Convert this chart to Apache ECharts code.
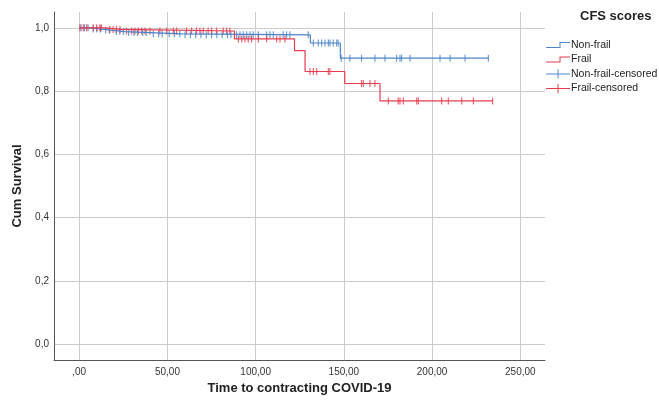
<!DOCTYPE html>
<html>
<head>
	<meta charset="UTF-8">
	<title>CFS scores - Kaplan-Meier</title>
	<script src="https://cdn.jsdelivr.net/npm/echarts@6/dist/echarts.min.js"></script>
</head>
<body style="margin:0; background:#fff;">
	<div id="container" style="width:659px;height:403px;"></div>
	<script type="text/javascript">
		// 刻度
		var xTicks = [0, 50, 100, 150, 200, 250];
		var yTicks = [0, 0.2, 0.4, 0.6, 0.8, 1.0];

		// Non-frail 生存曲线
		var nonFrailTime = [0, 7, 13, 19, 26, 40, 58, 131, 148, 232];
		var nonFrailSurv = [1.0, 0.996, 0.992, 0.988, 0.985, 0.981, 0.978, 0.952, 0.904, 0.904];
		// Frail 生存曲线
		var frailTime = [0, 14, 24, 88, 122, 128, 150.5, 170.5, 234.3];
		var frailSurv = [1.0, 0.995, 0.99, 0.965, 0.928, 0.862, 0.824, 0.769, 0.769];

		// 删失时间
		var nonFrailCensored = [1, 3, 5, 8, 10, 12, 15, 17, 21, 23, 25, 28, 31, 33, 36, 38, 42, 45, 47, 51, 54, 57,
			60, 63, 66, 69, 72, 75, 78, 81, 84, 86, 89.2, 91.1, 93, 94.9, 96.8, 98.6, 101.5, 106.2, 108.1, 110,
			115.6, 117.5, 119.4, 129.8, 132.7, 135.5, 137.4, 139.3, 141.2, 142.1, 144, 145.9, 146.8, 148.5,
			153.4, 160, 167.6, 173.3, 179.9, 181.8, 182.7, 187.5, 204.5, 210.2, 218.7, 231.9];
		var frailCensored = [0.4, 2.3, 4.2, 7.9, 9.8, 11.7, 12.6, 17.3, 19.2, 21.1, 23.1, 26.8, 29.7, 31.6, 33.5,
			35.4, 37.3, 40.1, 45.7, 49.5, 53.3, 55.2, 60.8, 63.7, 66.5, 68.4, 70.3, 73.1, 75, 77.8, 81.6, 83.5,
			85.4, 90.2, 92.1, 93.9, 95.8, 97.7, 101.5, 106.2, 111.9, 113.8, 116.6, 130.8, 132.7, 134.6, 141.2,
			142.1, 160, 161, 164.8, 167.6, 175.2, 180.8, 181.8, 183.7, 191.3, 192.2, 205.4, 209.2, 216.8,
			223.4, 234.3];

		var legendNames = ['Non-frail', 'Frail', 'Non-frail-censored', 'Frail-censored'];
		var blue = '#4c84c9';
		var red = '#e63c4e';
		var font = '"Liberation Sans", Arial, sans-serif';

		function survAt(times, surv, t) {
			var s = surv[0];
			for (var i = 0; i < times.length; i++) {
				if (times[i] <= t) s = surv[i];
			}
			return s;
		}

		function curve(times, surv) {
			return times.map(function (t, i) {
				return [t, surv[i]];
			});
		}

		function marks(cens, times, surv) {
			return cens.map(function (t) {
				return [t, survAt(times, surv, t)];
			});
		}

		function seg(x1, y1, x2, y2, c) {
			return {
				type: 'line',
				shape: { x1: x1, y1: y1, x2: x2, y2: y2 },
				style: { stroke: c, lineWidth: 1 }
			};
		}

		// 图例（手绘）
		var rowY = [45, 59.5, 74, 88.5];
		var legendGraphics = [{
			type: 'text',
			left: 580,
			top: 10,
			style: {
				text: 'CFS scores',
				font: 'bold 13px ' + font,
				fill: '#222'
			}
		}];
		legendNames.forEach(function (name, i) {
			var y = rowY[i];
			var c = (i % 2 === 0) ? blue : red;
			if (i < 2) {
				legendGraphics.push(seg(546, y + 2.5, 560.5, y + 2.5, c));
				legendGraphics.push(seg(560, y + 2.5, 560, y - 2.5, c));
				legendGraphics.push(seg(559.5, y - 2.5, 570, y - 2.5, c));
			} else {
				legendGraphics.push(seg(546, y, 570, y, c));
				legendGraphics.push(seg(558, y - 4.5, 558, y + 4.5, c));
			}
			legendGraphics.push({
				type: 'text',
				x: 571,
				y: y,
				style: {
					text: name,
					font: '10.5px ' + font,
					fill: '#222',
					verticalAlign: 'middle'
				}
			});
		});

		var myChart = echarts.init(document.getElementById('container'));
		var option = {
			animation: false,
			grid: {
				left: 54,
				right: 114,
				top: 12,
				bottom: 43
			},
			graphic: legendGraphics,
			xAxis: {
				type: 'value',
				min: -14.3,
				max: 264,
				name: 'Time to contracting COVID-19',
				nameLocation: 'middle',
				nameGap: 20,
				nameTextStyle: {
					fontFamily: font,
					fontSize: 13,
					fontWeight: 'bold',
					color: '#222'
				},
				axisLine: { show: true, onZero: false, lineStyle: { color: '#555', width: 1 } },
				axisTick: { show: false, customValues: xTicks },
				axisLabel: {
					customValues: xTicks,
					margin: 7,
					fontFamily: font,
					fontSize: 10,
					color: '#333',
					formatter: function (v) {
						return v === 0 ? ',00' : v.toFixed(2).replace('.', ',');
					}
				},
				splitLine: { show: true, lineStyle: { color: '#cbcbcb', width: 1 } }
			},
			yAxis: {
				type: 'value',
				min: -0.05,
				max: 1.05,
				name: 'Cum Survival',
				nameLocation: 'middle',
				nameGap: 28,
				nameTextStyle: {
					fontFamily: font,
					fontSize: 13,
					fontWeight: 'bold',
					color: '#222'
				},
				axisLine: { show: true, onZero: false, lineStyle: { color: '#555', width: 1 } },
				axisTick: { show: false, customValues: yTicks },
				axisLabel: {
					customValues: yTicks,
					margin: 5,
					fontFamily: font,
					fontSize: 10,
					color: '#333',
					formatter: function (v) {
						return v.toFixed(1).replace('.', ',');
					}
				},
				splitLine: { show: true, lineStyle: { color: '#cbcbcb', width: 1 } }
			},
			series: [{
					name: 'Non-frail',
					type: 'line',
					step: 'end',
					symbol: 'none',
					lineStyle: { color: blue, width: 1.2 },
					data: curve(nonFrailTime, nonFrailSurv)
				},
				{
					name: 'Non-frail-censored',
					type: 'scatter',
					symbol: 'rect',
					symbolSize: [1.2, 7],
					itemStyle: { color: blue },
					data: marks(nonFrailCensored, nonFrailTime, nonFrailSurv)
				},
				{
					name: 'Frail',
					type: 'line',
					step: 'end',
					symbol: 'none',
					lineStyle: { color: red, width: 1.2 },
					data: curve(frailTime, frailSurv)
				},
				{
					name: 'Frail-censored',
					type: 'scatter',
					symbol: 'rect',
					symbolSize: [1.2, 7],
					itemStyle: { color: red },
					data: marks(frailCensored, frailTime, frailSurv)
				}
			]
		};
		myChart.setOption(option);
	</script>
</body>
</html>
